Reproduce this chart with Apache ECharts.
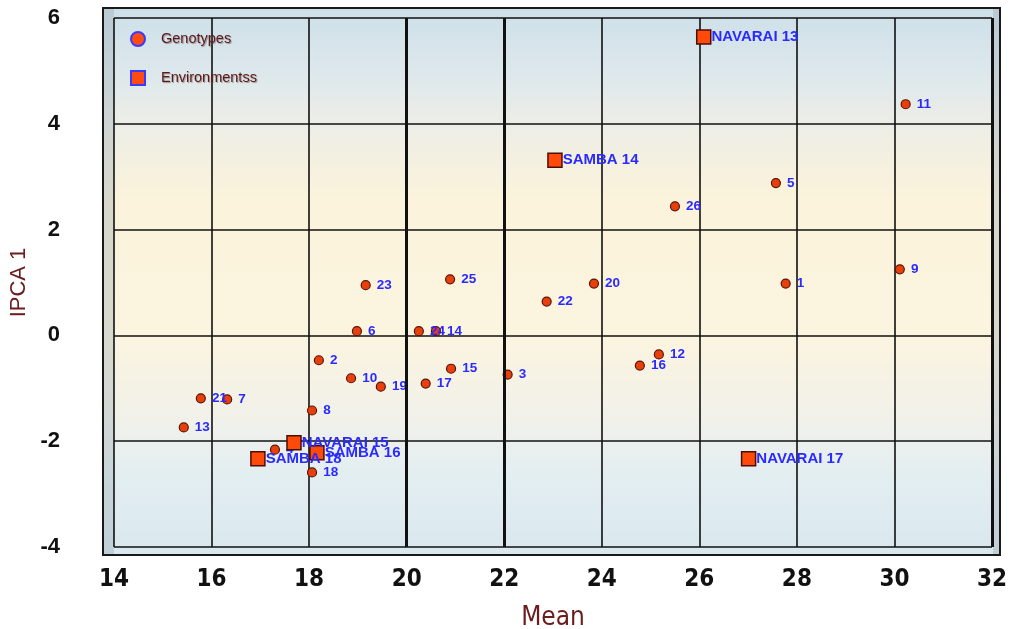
<!DOCTYPE html>
<html>
<head>
<meta charset="utf-8">
<script src="https://cdn.jsdelivr.net/npm/echarts@6/dist/echarts.min.js"></script>
<style>
  html, body { margin: 0; padding: 0; background: #fff; }
  #main { width: 1016px; height: 629px; }
</style>
</head>
<body>
<div id="main"></div>
<script>
// genotypes 1..26
const genoNames = ['1','2','3','4','5','6','7','8','9','10','11','12','13','14','15','16','17','18','19','20','21','22','23','24','25','26'];
const genoMean = [27.77,18.20,22.07,17.30,27.57,18.98,16.32,18.06,30.11,18.86,30.23,25.17,15.43,20.60,20.91,24.78,20.39,18.06,19.47,23.84,15.78,22.87,19.16,20.25,20.89,25.50];
const genoIPCA = [0.98,-0.47,-0.74,-2.16,2.88,0.08,-1.21,-1.42,1.25,-0.81,4.37,-0.36,-1.74,0.08,-0.63,-0.57,-0.91,-2.59,-0.97,0.98,-1.19,0.64,0.95,0.08,1.06,2.44];

// environments
const envNames = ['NAVARAI 13','SAMBA 14','NAVARAI 15','SAMBA 16','NAVARAI 17','SAMBA 18'];
const envMean = [26.09,23.04,17.69,18.16,27.01,16.95];
const envIPCA = [5.64,3.31,-2.03,-2.22,-2.33,-2.33];

const xTicks = [14,16,18,20,22,24,26,28,30,32];
const yTicks = [-4,-2,0,2,4,6];
const thickX = [20,22,32];

const chart = echarts.init(document.getElementById('main'));

const labelBlue = '#2a2aff';
const tickFont = { color: '#111', fontWeight: 'bold', fontFamily: '"Liberation Sans Narrow", "DejaVu Sans Condensed", "Liberation Sans", Arial, sans-serif' };

// plot frame with soft banded background (slightly larger than the axis range)
const bg = new echarts.graphic.LinearGradient(0, 0, 0, 1, [
  { offset: 0, color: '#cddfe9' },
  { offset: 0.12, color: '#dde8ec' },
  { offset: 0.22, color: '#eeeee6' },
  { offset: 0.35, color: '#fbf3db' },
  { offset: 0.6, color: '#fbf4df' },
  { offset: 0.75, color: '#f1f1ea' },
  { offset: 0.85, color: '#e3eef1' },
  { offset: 1, color: '#d9e7ee' }
]);

chart.setOption({
  animation: false,
  backgroundColor: '#fff',
  graphic: [
    { type: 'rect', z: -10, shape: { x: 103, y: 8, width: 897, height: 547 },
      style: { fill: bg, stroke: '#1a1a1a', lineWidth: 2 } },
    { type: 'rect', z: -9, shape: { x: 104, y: 9, width: 10, height: 545 },
      style: { fill: 'rgba(150,165,175,0.35)' } },
    { type: 'rect', z: -9, shape: { x: 993, y: 9, width: 6, height: 545 },
      style: { fill: 'rgba(150,160,170,0.35)' } }
  ],
  grid: { left: 114, right: 24, top: 18, bottom: 82, outerBoundsMode: 'none', containLabel: false },
  legend: {
    orient: 'vertical',
    left: 125,
    top: 26,
    itemGap: 23,
    itemWidth: 14,
    itemHeight: 14,
    textStyle: { color: '#5a1a1a', fontSize: 14.5, padding: [0, 0, 0, 11], fontFamily: 'Arial, "Liberation Sans", sans-serif',
      textShadowColor: 'rgba(90,60,60,0.5)', textShadowBlur: 1, textShadowOffsetX: 1, textShadowOffsetY: 1 },
    data: [
      { name: 'Genotypes', icon: 'circle', itemStyle: { color: '#ff4a10', borderColor: '#3a3aff', borderWidth: 2 } },
      { name: 'Environmentss', icon: 'rect', itemStyle: { color: '#ff4a10', borderColor: '#3a3aff', borderWidth: 2 } }
    ]
  },
  xAxis: {
    type: 'value',
    min: xTicks[0],
    max: xTicks[xTicks.length - 1],
    interval: 2,
    name: 'Mean',
    nameLocation: 'middle',
    nameGap: 58,
    nameTextStyle: { color: '#6b1c1c', fontSize: 26, fontFamily: '"Liberation Sans Narrow", "DejaVu Sans Condensed", "Liberation Sans", Arial, sans-serif' },
    axisLine: { show: false },
    axisTick: { show: false },
    axisLabel: Object.assign({ fontSize: 24, margin: 21 }, tickFont),
    splitLine: { show: true, lineStyle: { color: '#111', width: 1.6 } }
  },
  yAxis: {
    type: 'value',
    min: yTicks[0],
    max: yTicks[yTicks.length - 1],
    interval: 2,
    name: 'IPCA 1',
    nameLocation: 'middle',
    nameGap: 78,
    nameTextStyle: { color: '#6b1c1c', fontSize: 22, fontFamily: 'Arial, "Liberation Sans", sans-serif' },
    axisLine: { show: false },
    axisTick: { show: false },
    axisLabel: { color: '#111', fontWeight: 'bold', fontSize: 22, margin: 54, align: 'right', fontFamily: 'Arial, "Liberation Sans", sans-serif' },
    splitLine: { show: true, lineStyle: { color: '#111', width: 1.6 } }
  },
  series: [
    {
      name: 'Genotypes',
      type: 'scatter',
      symbol: 'circle',
      symbolSize: 9,
      z: 3,
      itemStyle: { color: '#e8400c', borderColor: '#5a1408', borderWidth: 1.2, opacity: 1 },
      label: {
        show: true, position: 'right', distance: 6,
        formatter: p => p.data[2],
        color: labelBlue, fontSize: 13.5, fontWeight: 'bold',
        fontFamily: 'Arial, "Liberation Sans", sans-serif'
      },
      markLine: {
        silent: true, symbol: 'none', animation: false,
        label: { show: false },
        lineStyle: { color: '#111', width: 3, type: 'solid' },
        data: thickX.map(v => ({ xAxis: v }))
      },
      data: genoNames.map((n, i) => [genoMean[i], genoIPCA[i], n])
    },
    {
      name: 'Environmentss',
      type: 'scatter',
      symbol: 'rect',
      symbolSize: 14,
      z: 4,
      itemStyle: { color: '#ff4a0a', borderColor: '#4a0e06', borderWidth: 1.5, opacity: 1 },
      label: {
        show: true, position: 'right', distance: 0,
        formatter: p => p.data[2],
        color: labelBlue, fontSize: 15, fontWeight: 'bold',
        fontFamily: 'Arial, "Liberation Sans", sans-serif'
      },
      data: envNames.map((n, i) => [envMean[i], envIPCA[i], n])
    }
  ]
});
</script>
</body>
</html>
